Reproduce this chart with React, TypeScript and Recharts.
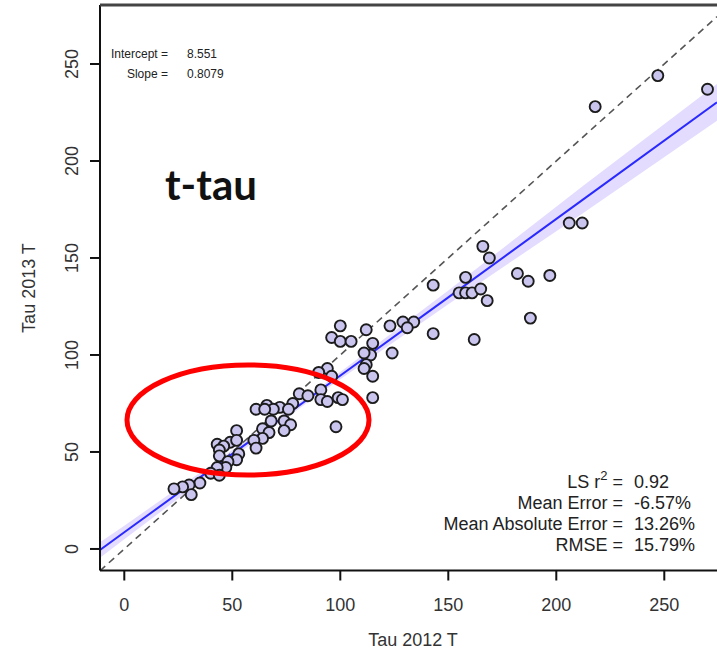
import React from "react";
import {
  ComposedChart,
  XAxis,
  YAxis,
  Scatter,
  Line,
  Area,
} from "recharts";

// Tau 2012 T vs Tau 2013 T
const tau2012 = [
  270, 247, 218, 206, 212, 166, 169, 143, 158, 155, 158, 161, 165, 168, 182, 187,
  197, 188, 143, 162, 134, 100, 96, 100, 105, 112, 123, 129, 131, 115, 114, 124,
  111, 112, 111, 115, 115, 94, 90, 96, 91, 81, 85, 91, 94, 99, 101, 98, 78, 72,
  66, 69, 76, 68, 74, 77, 74, 64, 67, 61, 65, 64, 60, 61, 52, 49, 52, 43, 46, 44,
  44, 53, 52, 48, 47, 43, 40, 44, 35, 30, 27, 23, 31,
];
const tau2013 = [
  237, 244, 228, 168, 168, 156, 150, 136, 140, 132, 132, 132, 134, 128, 142, 138,
  141, 119, 111, 108, 117, 115, 109, 107, 107, 113, 115, 117, 114, 106, 100, 101,
  101, 95, 93, 89, 78, 93, 91, 89, 82, 80, 79, 77, 76, 78, 77, 63, 75, 73, 74, 72,
  72, 66, 66, 64, 61, 62, 60, 72, 72, 57, 56, 52, 61, 55, 56, 54, 53, 51, 48, 49,
  46, 45, 42, 42, 39, 38, 34, 33, 32, 31, 28,
];

// fitted line and its confidence band
const bandX = [-11.25, 0, 50, 90, 150, 212, 274.4];
const fitY = [-0.5, 8.6, 49, 81.3, 129.7, 179.8, 230.2];
const bandLow = [-4.5, 5, 47, 79.7, 126.2, 172.8, 220.7];
const bandHigh = [3.5, 12, 51, 82.8, 133.2, 186.8, 239.7];

// 1:1 line
const idX = [-11.25, 274.4];
const idY = [-11.25, 274.4];

const xTicks = [0, 50, 100, 150, 200, 250];
const yTicks = [0, 50, 100, 150, 200, 250];

const statLabels = ["LS r", "Mean Error =", "Mean Absolute Error =", "RMSE ="];
const statValues = ["0.92", "-6.57%", "13.26%", "15.79%"];

const points = tau2012.map((x, i) => ({ x, y: tau2013[i] }));
const fitData = bandX.map((x, i) => ({ x, y: fitY[i] }));
const bandData = bandX.map((x, i) => ({ x, range: [bandLow[i], bandHigh[i]] }));
const idData = idX.map((x, i) => ({ x, y: idY[i] }));

const font = "'Liberation Sans', Arial, sans-serif";

const XTick = (props: any) => (
  <text
    x={props.x}
    y={605}
    textAnchor="middle"
    dominantBaseline="central"
    fontFamily={font}
    fontSize={18}
    fill="#333"
  >
    {props.payload.value}
  </text>
);

const YTick = (props: any) => (
  <text
    x={72}
    y={props.y}
    transform={`rotate(-90 72 ${props.y})`}
    textAnchor="middle"
    dominantBaseline="central"
    fontFamily={font}
    fontSize={18}
    fill="#333"
  >
    {props.payload.value}
  </text>
);

const Dot = (p: any) => (
  <circle cx={p.cx} cy={p.cy} r={5.5} fill="#c9c5ee" stroke="#1c1c1c" strokeWidth={1.9} />
);

export default function App() {
  return (
    <div style={{ position: "absolute", left: 0, top: 0, width: 717, height: 655, background: "#fff" }}>
      <ComposedChart
        width={717}
        height={655}
        margin={{ top: 5, right: 0, bottom: 0, left: 0 }}
      >
        <XAxis
          type="number"
          dataKey="x"
          domain={[-11.25, 274.4]}
          allowDataOverflow
          ticks={xTicks}
          tickSize={10}
          height={84.5}
          tick={<XTick />}
          axisLine={{ stroke: "#111", strokeWidth: 2 }}
          tickLine={{ stroke: "#111", strokeWidth: 2 }}
        />
        <YAxis
          type="number"
          domain={[-11.1, 280.4]}
          allowDataOverflow
          ticks={yTicks}
          tickSize={10}
          width={100}
          tick={<YTick />}
          axisLine={{ stroke: "#111", strokeWidth: 2 }}
          tickLine={{ stroke: "#111", strokeWidth: 2 }}
        />
        <Area
          data={bandData}
          dataKey="range"
          type="linear"
          fill="#e4dcff"
          fillOpacity={1}
          stroke="none"
          isAnimationActive={false}
        />
        <Line
          data={idData}
          dataKey="y"
          type="linear"
          stroke="#555"
          strokeWidth={1.6}
          strokeDasharray="7 5"
          dot={false}
          isAnimationActive={false}
        />
        <Scatter data={points} dataKey="y" shape={Dot} isAnimationActive={false} />
        <Line
          data={fitData}
          dataKey="y"
          type="linear"
          stroke="#2a2aff"
          strokeWidth={2}
          dot={false}
          isAnimationActive={false}
        />
      </ComposedChart>
      <svg
        width={717}
        height={655}
        style={{ position: "absolute", left: 0, top: 0, pointerEvents: "none" }}
      >
        <line x1={100} y1={5} x2={717} y2={5} stroke="#444" strokeWidth={3} />
        <g fontFamily={font} fontSize={12} fill="#222">
          <text x={168} y={54} textAnchor="end" dominantBaseline="central">Intercept =</text>
          <text x={187} y={54} dominantBaseline="central">8.551</text>
          <text x={168} y={74} textAnchor="end" dominantBaseline="central">Slope =</text>
          <text x={187} y={74} dominantBaseline="central">0.8079</text>
        </g>
        <text x={165} y={200} fontFamily="Lato, 'Open Sans', sans-serif" fontWeight="bold" fontSize={42} fill="#111">
          t-tau
        </text>
        <g fontFamily={font} fontSize={18} fill="#222">
          {statLabels.map((s, i) => (
            <text key={s} x={623} y={482 + i * 21} textAnchor="end" dominantBaseline="central">
              {i === 0 ? (
                <>
                  {s}
                  <tspan dy={-7} fontSize={13}>2</tspan>
                  <tspan dy={7}> =</tspan>
                </>
              ) : (
                s
              )}
            </text>
          ))}
          {statValues.map((v, i) => (
            <text key={v} x={634} y={482 + i * 21} dominantBaseline="central">
              {v}
            </text>
          ))}
        </g>
        <text x={413} y={640} textAnchor="middle" dominantBaseline="central" fontFamily={font} fontSize={18} fill="#333">
          Tau 2012 T
        </text>
        <text
          x={29}
          y={288}
          transform="rotate(-90 29 288)"
          textAnchor="middle"
          dominantBaseline="central"
          fontFamily={font}
          fontSize={18}
          fill="#333"
        >
          Tau 2013 T
        </text>
        <ellipse cx={248} cy={420} rx={121} ry={55} fill="none" stroke="#ff0000" strokeWidth={5} />
      </svg>
    </div>
  );
}
